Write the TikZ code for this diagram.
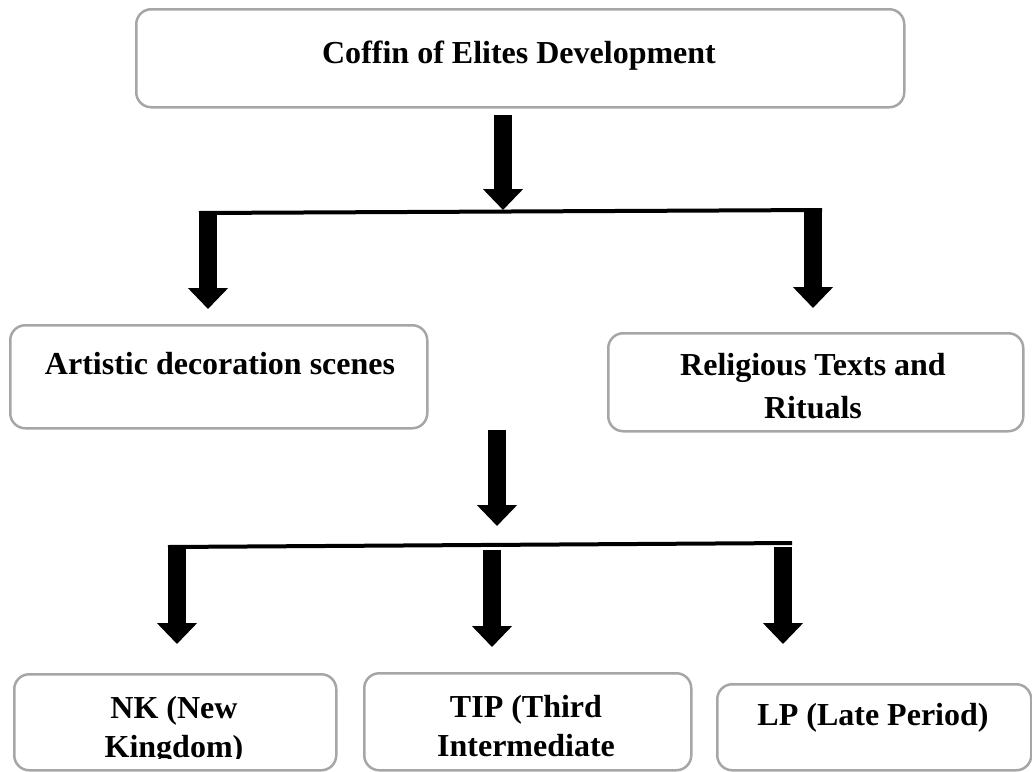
\documentclass[tikz,border=0pt]{standalone}
\usepackage{fontspec}
\setmainfont{Liberation Serif}
\usetikzlibrary{arrows.meta}

\definecolor{boxgray}{RGB}{166,166,166}

\tikzset{
    stage/.style={draw=boxgray, line width=2.5pt, rounded corners=15pt,
        inner sep=0pt, anchor=north west},
    stagetext/.style={font=\fontsize{32}{42}\selectfont\bfseries,
        align=center, inner sep=0pt, anchor=base},
    tighttext/.style={stagetext, font=\fontsize{32}{39}\selectfont\bfseries},
    blockarrow/.style={line width=18pt, -{Triangle[width=39pt,length=21pt]}},
    bar/.style={line width=4pt}
}

\begin{document}
\begin{tikzpicture}[x=1pt, y=-1pt]
        \useasboundingbox (0,0) rectangle (1032,771);

        % boxes
        \node[stage, minimum width=768pt, minimum height=98pt] (root) at (135,8) {};
        \node[stage, minimum width=417pt, minimum height=103pt] (art) at (9,324) {};
        \node[stage, minimum width=415pt, minimum height=98pt] (rel) at (607,332) {};
        \node[stage, minimum width=322pt, minimum height=96pt] (nk) at (13,673) {};
        \node[stage, minimum width=327pt, minimum height=97pt] (tip) at (363,672) {};
        \node[stage, minimum width=314pt, minimum height=86pt] (lp) at (716,683) {};

        % texts (base = last line)
        \node[stagetext] (rootText) at (519,63) {Coffin of Elites Development};
        \node[stagetext] (artText) at (220,374) {Artistic decoration scenes};
        \node[stagetext, font=\fontsize{32}{43}\selectfont\bfseries] (relText) at (813,418) {Religious Texts and\\Rituals};
        \node[stagetext] (lpText) at (873,725) {LP (Late Period)};
        \begin{scope}
            \clip (0,0) rectangle (1032,758);
            \node[tighttext] (nkText) at (174,757) {NK (New\\Kingdom)};
            \node[tighttext] (tipText) at (526,756) {TIP (Third\\Intermediate};
        \end{scope}

        % branch points
        \coordinate (fork1L) at (199,213);
        \coordinate (fork1R) at (822,210);
        \coordinate (fork2L) at (168,547);
        \coordinate (fork2R) at (792,543);

        % bars
        \draw[bar] (fork1L) -- (fork1R);
        \draw[bar] (fork2L) -- (fork2R);

        % arrows
        \draw[blockarrow] (503,115) -- (503,210);
        \draw[blockarrow] (208,213) -- (208,309);
        \draw[blockarrow] (813,212) -- (813,308);
        \draw[blockarrow] (497,430) -- (497,526);
        \draw[blockarrow] (177,547) -- (177,644);
        \draw[blockarrow] (492,550) -- (492,647);
        \draw[blockarrow] (783,547) -- (783,644);
\end{tikzpicture}
\end{document}
